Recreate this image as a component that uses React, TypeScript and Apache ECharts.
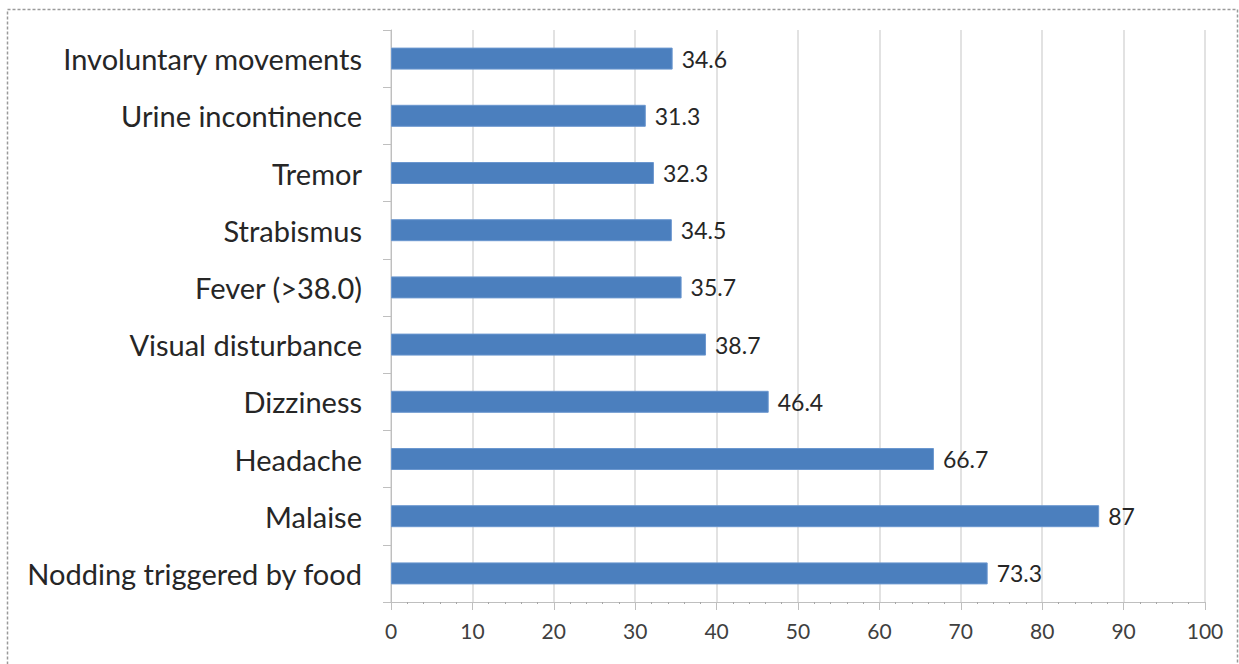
import React, { useEffect, useRef } from "react";
import * as echarts from "echarts";

const categories = [
  "Involuntary movements",
  "Urine incontinence",
  "Tremor",
  "Strabismus",
  "Fever (>38.0)",
  "Visual disturbance",
  "Dizziness",
  "Headache",
  "Malaise",
  "Nodding triggered by food",
];
const values = [34.6, 31.3, 32.3, 34.5, 35.7, 38.7, 46.4, 66.7, 87, 73.3];
const xTicks = { min: 0, max: 100, interval: 10 };

export default function App() {
  const ref = useRef<HTMLDivElement>(null);
  useEffect(() => {
    document.body.style.margin = "0";
    const chart = echarts.init(ref.current!, null, { renderer: "svg" });
    chart.setOption({
      animation: false,
      backgroundColor: "#ffffff",
      textStyle: { fontFamily: "Lato" },
      grid: { left: 391, right: 34, top: 30, bottom: 62 },
      xAxis: {
        type: "value",
        min: xTicks.min,
        max: xTicks.max,
        interval: xTicks.interval,
        axisLine: { show: true, lineStyle: { color: "#bfbfbf", width: 1 } },
        axisTick: { show: true, length: 8, lineStyle: { color: "#bfbfbf" } },
        minorTick: { show: true, splitNumber: 5, length: 2, lineStyle: { color: "#a6a6a6" } },
        axisLabel: { color: "#404040", fontSize: 21, margin: 18, fontFamily: "Lato" },
        splitLine: { show: true, lineStyle: { color: "#d9d9d9", width: 1.5 } },
      },
      yAxis: {
        type: "category",
        data: categories,
        inverse: true,
        axisLine: { show: true, lineStyle: { color: "#bfbfbf", width: 1 } },
        axisTick: { show: true, length: 8, lineStyle: { color: "#bfbfbf" } },
        axisLabel: { color: "#262626", fontSize: 29, margin: 29, fontFamily: "Lato" },
      },
      series: [
        {
          type: "bar",
          data: values,
          barWidth: 22,
          itemStyle: { color: "#4b7fbe", borderColor: "#6b97cf", borderWidth: 1 },
          label: {
            show: true,
            position: "right",
            distance: 9,
            color: "#262626",
            fontSize: 23,
            fontFamily: "Lato",
          },
        },
      ],
      graphic: [
        {
          type: "rect",
          shape: { x: 7.5, y: 9.5, width: 1230, height: 670 },
          style: { fill: "none", stroke: "#9a9a9a", lineWidth: 1.5, lineDash: [3, 2] },
          silent: true,
        },
      ],
    });
    return () => chart.dispose();
  }, []);
  return (
    <div
      ref={ref}
      style={{ position: "fixed", left: 0, top: 0, width: 1239, height: 664 }}
    />
  );
}
